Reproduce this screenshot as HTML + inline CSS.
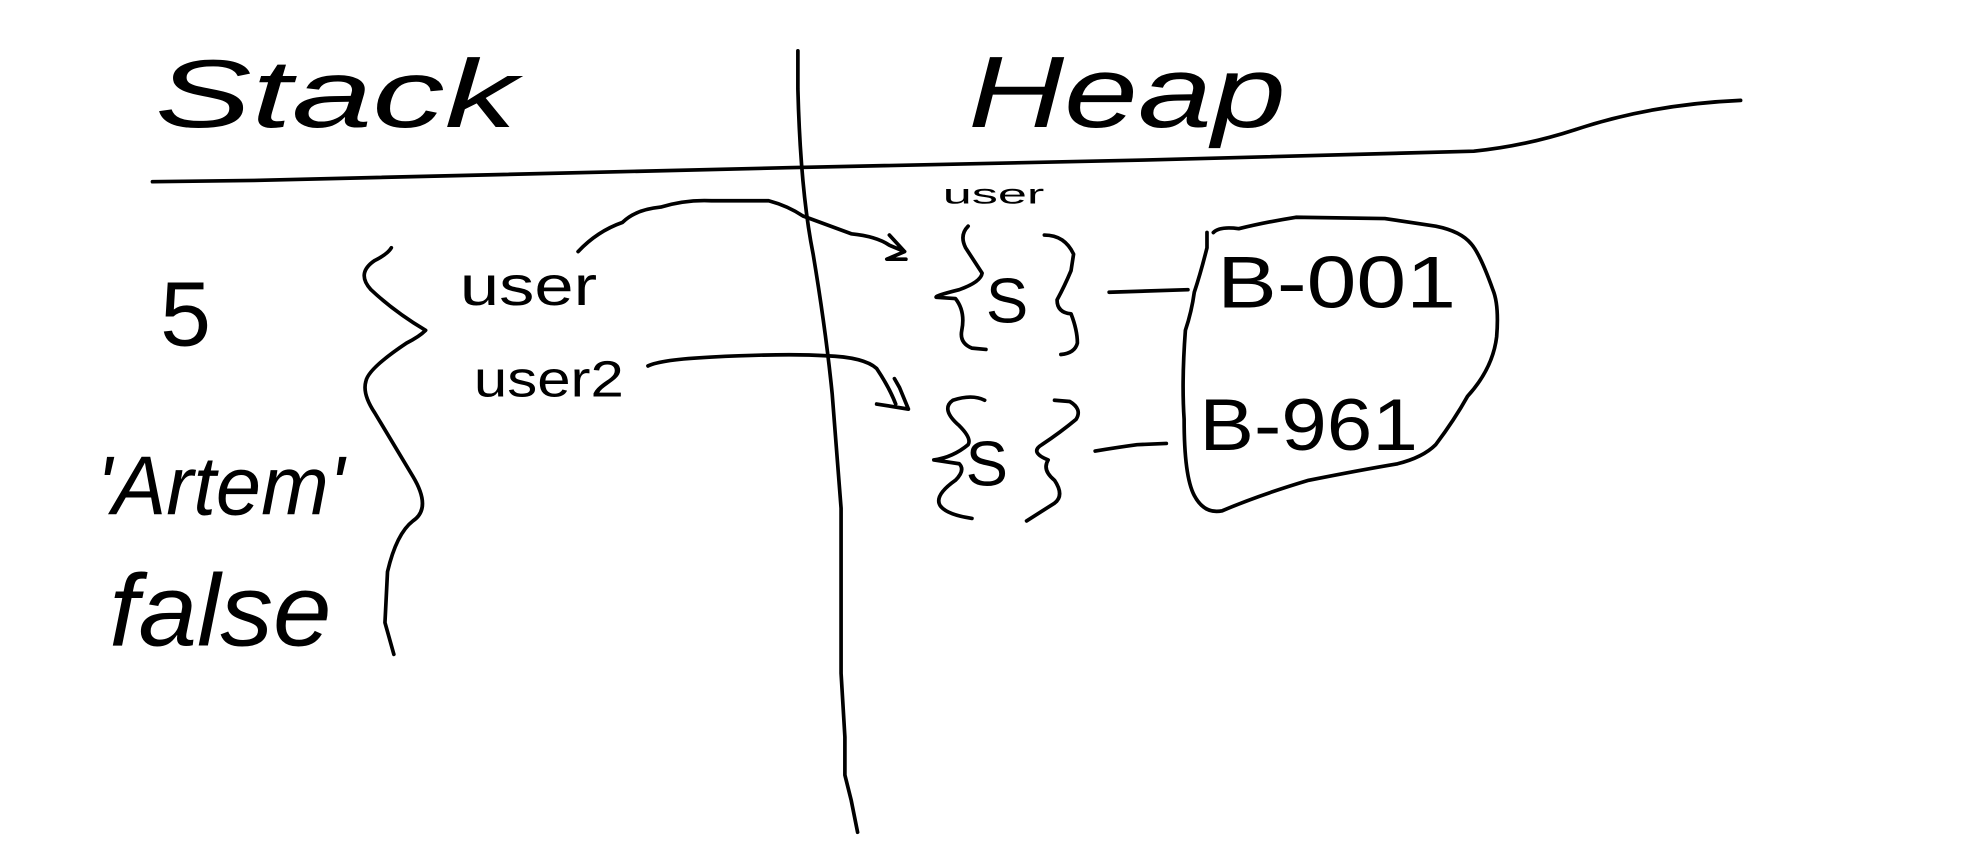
<!DOCTYPE html>
<html><head><meta charset="utf-8"><style>
html,body{margin:0;padding:0;background:#fff;}
svg{display:block;}
text{font-family:"Liberation Sans",sans-serif;fill:#000;}
</style></head><body>
<svg width="1982" height="857" viewBox="0 0 1560 674.5" preserveAspectRatio="none">
<g fill="none" stroke="#000" stroke-width="2.9" stroke-linecap="round" stroke-linejoin="round">
<path d="M120 143 L200 142 L620 132 L900 126 L1160 119 Q1200 115 1240 102 Q1300 82 1370 79"/>
<path d="M628 40 L628 70 Q630 150 640 200 Q650 260 655 310 L662 400 L662 530 L665 580 L665 610 L670 630 L675 655"/>
<path d="M308 195 Q305 200 295 205 Q280 215 292 228 Q310 245 335 260 Q330 265 320 270 Q290 290 288 300 Q285 310 295 325 L325 375 Q340 400 325 410 Q312 420 305 450 L303 490 L310 515"/>
<path d="M455 198 Q470 182 490 175 Q500 165 520 163 Q540 157 560 158 L605 158 Q620 162 632 170 L670 184 Q690 186 700 193 L712 198 M700 185 L712 198 L698 204 L713 204"/>
<path d="M510 288 Q520 283 560 281 Q620 278 650 280 Q680 281 690 290 Q700 305 705 318 M690 318 L715 322 L708 305 L704 298"/>
<path d="M762 178 Q755 185 760 195 L773 215 Q772 222 755 228 Q735 233 737 234 L752 235 Q760 245 757 260 Q755 270 765 274 L776 275"/>
<path d="M822 185 Q838 185 845 200 L843 213 Q838 225 832 236 Q832 246 843 247 Q848 260 848 270 Q846 278 835 279"/>
<path d="M775 315 Q765 310 750 315 Q740 322 755 335 Q765 345 762 350 Q750 360 735 362 L755 365 Q760 370 752 378 Q735 390 740 398 Q745 405 765 408"/>
<path d="M830 315 L842 316 Q852 322 847 330 Q835 340 820 350 Q810 356 825 362 Q820 370 830 378 Q838 390 830 396 L808 410"/>
<path d="M873 230 L935 228"/>
<path d="M862 355 Q880 352 895 350 L918 349"/>
<path d="M950 183 L950 195 Q945 215 940 230 Q938 245 933 260 Q930 300 932 330 Q932 375 940 390 Q948 405 962 402 Q990 390 1030 378 Q1070 370 1100 365 Q1120 360 1130 350 Q1145 330 1155 312 Q1175 290 1178 265 Q1180 240 1175 228 Q1165 200 1158 192 Q1150 182 1130 178 Q1110 175 1090 172 L1020 171 Q995 175 975 180 Q960 178 955 183"/>
</g>
<text x="122" y="100" font-size="76" font-style="italic" textLength="285" lengthAdjust="spacingAndGlyphs">Stack</text>
<text x="762" y="100" font-size="80" font-style="italic" textLength="250" lengthAdjust="spacingAndGlyphs">Heap</text>
<text x="742" y="160" font-size="22" textLength="80" lengthAdjust="spacingAndGlyphs">user</text>
<text x="126" y="272" font-size="72">5</text>
<text x="76" y="405" font-size="66" font-style="italic" textLength="195" lengthAdjust="spacingAndGlyphs">'Artem'</text>
<text x="86" y="508" font-size="80" font-style="italic" textLength="175" lengthAdjust="spacingAndGlyphs">false</text>
<text x="362" y="240" font-size="44" textLength="108" lengthAdjust="spacingAndGlyphs">user</text>
<text x="373" y="312" font-size="40" textLength="118" lengthAdjust="spacingAndGlyphs">user2</text>
<text x="776" y="254" font-size="50">S</text>
<text x="760" y="382" font-size="50">S</text>
<text x="958" y="242" font-size="58" textLength="188" lengthAdjust="spacingAndGlyphs">B-001</text>
<text x="944" y="354" font-size="58" textLength="172" lengthAdjust="spacingAndGlyphs">B-961</text>
</svg>
</body></html>
